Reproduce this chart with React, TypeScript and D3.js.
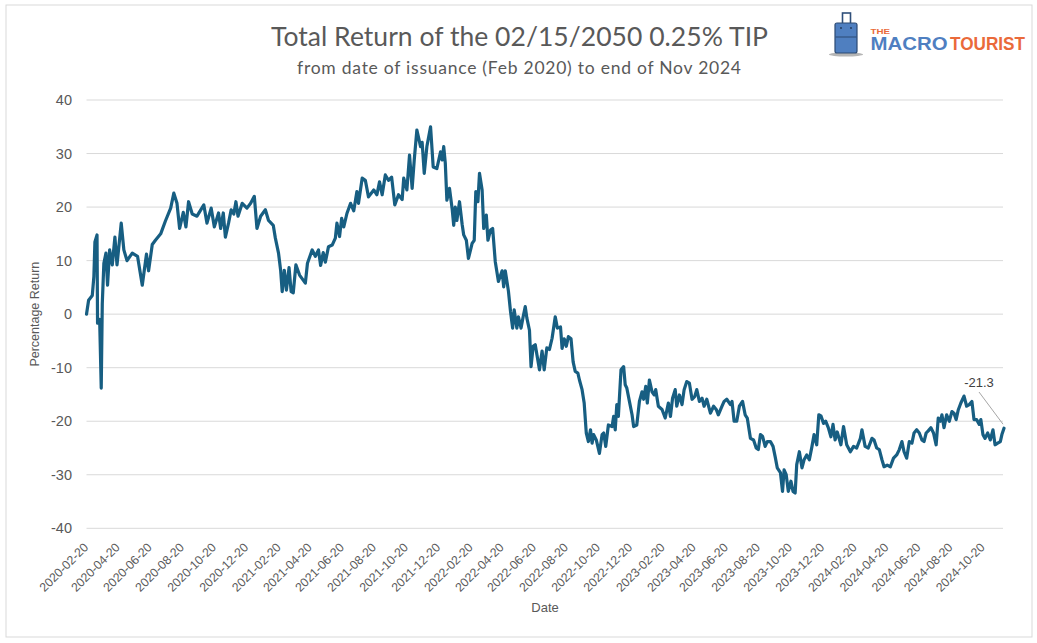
import React from "react";
import * as d3 from "d3";

const ISSUE_DATE = "2020-02-20";
const LAST_LABEL = "-21.3";

// [days since issuance, total return %]
const returnSeries: [number, number][] = [
  [0,0],[4,2.6],[11,3.5],[14,7],[16,13.5],[20,14.8],[21,-1.7],[25,-1],[28,-13.8],[30,2],[33,9.5],[37,11.4],[40,5.4],[44,12],[49,9.2],[54,14.4],[58,9.2],[66,17],[71,12],[77,10],[87,11.4],[97,10.8],[106,5.4],[114,11.2],[118,8.1],[125,13],[131,13.8],[141,15],[150,17.4],[160,19.8],[166,22.6],[172,20.7],[177,16],[184,19],[189,16.3],[194,21],[201,18.7],[210,18.3],[223,20.4],[229,17],[237,19.8],[243,16.3],[251,18.9],[255,16],[260,18.9],[264,14.4],[270,17],[275,19.5],[280,18.7],[284,21],[288,18.3],[296,20.7],[305,19.8],[312,20.7],[319,22],[324,16],[331,18.3],[340,19.5],[346,17.5],[355,16.6],[359,14.2],[365,11.4],[369,8.2],[372,4.2],[376,8.2],[380,4.5],[385,8.7],[389,4.2],[393,4],[398,9.2],[405,7.3],[416,5.8],[420,9.5],[429,12],[435,10.8],[441,12],
  [445,9.1],[450,11.5],[454,9.7],[460,12.6],[467,12.9],[473,14.2],[476,17],[481,14.5],[485,17.9],[489,16.3],[495,18.8],[502,20.7],[508,19.3],[514,22.9],[517,20.7],[524,25.4],[530,25],[536,21.9],[546,23.2],[552,22.3],[557,24.7],[562,22.3],[568,26],[574,25],[580,25.6],[586,20.4],[593,22.3],[600,21.4],[603,25.4],[609,23.2],[614,29.7],[619,23.5],[623,28.8],[628,34.4],[635,31.3],[638,32.1],[642,26.3],[647,31.3],[654,35],[659,27.5],[666,27.2],[673,30.3],[676,28.8],[679,31.3],[682,28.2],[685,21.3],[690,23.5],[695,19.7],[698,16.6],[701,20],[704,17.5],[709,21],[714,16.8],[717,14.8],[722,13.8],[726,10.4],[733,13.2],[737,13.8],[740,22.9],[744,21],[747,26.3],[752,23.2],[755,16],[760,18.5],[763,13.8],[768,15.7],[772,16],[777,9.8],[783,6.1],[790,8.1],[793,5.1],[796,8.1],[802,4.3],[806,0.5],[810,-2.6],[813,0.8],[818,-2.6],[821,-0.5],[826,-2.6],[830,-0.5],[834,1.4],[837,-0.7],[842,-3],[845,-9.8],[849,-6],[853,-5.7],[856,-7.5],[861,-10.4],[866,-6.9],[870,-10.4],[875,-6.3],[880,-6.6],[885,-4.5],[891,-0.5],[895,-2.6],[901,-2.4],
  [904,-6.4],[908,-4.6],[912,-6],[916,-4.2],[921,-4.6],[925,-8.9],[929,-10.7],[934,-11],[937,-12.3],[942,-14.1],[946,-16.6],[950,-22.2],[954,-23.8],[958,-21.6],[961,-24.1],[964,-22.5],[969,-23.5],[975,-26],[980,-22.5],[983,-22.2],[987,-24.7],[992,-20.7],[999,-21],[1002,-19.1],[1005,-21.6],[1008,-16.9],[1011,-19.1],[1016,-10.4],[1021,-9.8],[1024,-13.2],[1027,-13.8],[1032,-16.3],[1037,-18.8],[1040,-21],[1046,-20.7],[1051,-16.3],[1056,-14.5],[1059,-15.9],[1063,-13.5],[1066,-16.6],[1070,-12.3],[1075,-14.5],[1079,-15.1],[1082,-14.1],[1087,-17.2],[1094,-17.8],[1100,-19.4],[1106,-16.6],[1110,-19.1],[1114,-15.7],[1119,-14.1],[1122,-17.2],[1127,-15.1],[1132,-16.9],[1136,-14.1],[1141,-12.6],[1146,-12.9],[1151,-15.9],[1156,-15.4],[1160,-14.1],[1165,-16.3],[1170,-15.7],[1174,-17.2],[1179,-15.9],[1186,-18.5],[1192,-17.2],[1197,-17.8],[1201,-18.8],[1208,-17.2],[1212,-16.3],[1217,-15.9],[1224,-16.9],[1227,-16.3],[1231,-20],[1236,-20],[1241,-17.2],[1247,-16.3],[1252,-18.8],[1256,-19.4],[1262,-23.2],[1268,-23.5],[1273,-25],[1277,-25.3],[1281,-22.5],[1285,-22.8],[1290,-24.7],[1294,-23.8],[1300,-23.8],[1305,-24.7],[1309,-26.6],[1313,-28.7],[1319,-29.6],[1323,-33.1],[1326,-29.1],[1330,-30],[1334,-33.1],[1339,-31.2],[1343,-33.1],[1347,-33.4],[1350,-28.1],[1355,-25.7],[1360,-28.7],[1364,-27.2],[1369,-26.3],[1374,-27.2],[1379,-24.7],[1383,-22.5],[1388,-24.4],[1392,-18.8],
  [1396,-19],[1401,-20.4],[1405,-20],[1410,-21.2],[1415,-22.9],[1419,-20.6],[1423,-23.5],[1427,-22],[1434,-24.4],[1439,-21],[1445,-24.4],[1452,-25.7],[1458,-24.7],[1464,-25],[1471,-23.2],[1474,-21.6],[1480,-24.7],[1486,-25],[1493,-23.2],[1497,-23.5],[1502,-25],[1507,-25.3],[1512,-27.2],[1516,-28.5],[1522,-28.2],[1528,-28.5],[1534,-26.9],[1540,-26.3],[1545,-25.3],[1550,-23.8],[1554,-25.7],[1559,-26.9],[1564,-23.8],[1569,-24.1],[1573,-22.2],[1578,-21.6],[1583,-22.2],[1588,-23.5],[1592,-23.8],[1596,-22.2],[1600,-21.8],[1605,-21.2],[1610,-22.2],[1615,-24.4],[1619,-19.4],[1623,-20],[1626,-18.8],[1630,-21.2],[1635,-18.8],[1640,-20],[1645,-18.2],[1649,-18.5],[1653,-19.7],[1657,-17.9],[1662,-16.6],[1668,-15.3],[1673,-17.2],[1678,-16.9],[1683,-16.3],[1687,-19.7],[1692,-19.7],[1697,-20.6],[1700,-19.7],[1704,-22.5],[1708,-23.2],[1713,-22.2],[1718,-23.5],[1723,-21.6],[1727,-24.4],[1732,-24.1],[1737,-23.8],[1740,-22.5],[1744,-21.3],
];

const yTicks = [40, 30, 20, 10, 0, -10, -20, -30, -40];

const xTickLabels = [
  "2020-02-20","2020-04-20","2020-06-20","2020-08-20","2020-10-20","2020-12-20",
  "2021-02-20","2021-04-20","2021-06-20","2021-08-20","2021-10-20","2021-12-20",
  "2022-02-20","2022-04-20","2022-06-20","2022-08-20","2022-10-20","2022-12-20",
  "2023-02-20","2023-04-20","2023-06-20","2023-08-20","2023-10-20","2023-12-20",
  "2024-02-20","2024-04-20","2024-06-20","2024-08-20","2024-10-20",
];

const parse = d3.utcParse("%Y-%m-%d");
const SANS = "'Liberation Sans', Arial, sans-serif";
const TITLE_FONT = "Lato, 'Open Sans', sans-serif";

export default function App() {
  const W = 1037, H = 643;
  const issue = parse(ISSUE_DATE)!;
  const pts = returnSeries.map(([d, v]) => ({ date: d3.utcDay.offset(issue, d), v }));
  const last = pts[pts.length - 1];

  const x = d3.scaleUtc().domain([issue, last.date]).range([86.5, 1004]);
  const y = d3.scaleLinear().domain([-40, 40]).range([528.3, 100]);

  const line = d3.line<{ date: Date; v: number }>()
    .x((d) => x(d.date))
    .y((d) => y(d.v));

  const txt = "#595959";
  const lx = x(last.date), ly = y(last.v);

  return (
    <svg width={W} height={H} style={{ position: "absolute", left: 0, top: 0, background: "#fff" }}
      fontFamily={SANS}>
      <rect x={6} y={5} width={1026} height={632} fill="#fff" stroke="#d9d9d9" strokeWidth={1} />

      {/* Title */}
      <text x={519.5} y={46} textAnchor="middle" fontFamily={TITLE_FONT} fontSize={26.5} fill={txt}
        textLength={497} lengthAdjust="spacing">
        Total Return of the 02/15/2050 0.25% TIP
      </text>
      <text x={519} y={73.5} textAnchor="middle" fontFamily={TITLE_FONT} fontSize={17.5} fill={txt}
        textLength={444} lengthAdjust="spacing">
        from date of issuance (Feb 2020) to end of Nov 2024
      </text>

      {/* Logo */}
      <g>
        <ellipse cx={846} cy={54.5} rx={17} ry={2} fill="#b5b5b5" />
        <rect x={842.5} y={13} width={8} height={11} fill="none" stroke="#2f4f7a" strokeWidth={1.6} />
        <rect x={835} y={23} width={22} height={30} rx={2} fill="#4f7fc0" stroke="#2c4a73" strokeWidth={1.2} />
        <line x1={835.5} y1={37} x2={856.5} y2={37} stroke="#2c4a73" strokeWidth={1} />
        <circle cx={841} cy={28} r={0.9} fill="#1f3554" />
        <circle cx={851} cy={28} r={0.9} fill="#1f3554" />
        <text x={870.5} y={33.5} fontFamily={SANS} fontWeight="bold" fontSize={8} fill="#ea6a3a"
          textLength={19.5} lengthAdjust="spacingAndGlyphs">THE</text>
        <text x={870.5} y={50} fontFamily={SANS} fontWeight="bold" fontSize={17.5}
          fill="#4f7fc1" textLength={77} lengthAdjust="spacingAndGlyphs">MACRO</text>
        <text x={950} y={50} fontFamily={SANS} fontWeight="bold" fontSize={17.5}
          fill="#ea6a3a" textLength={75} lengthAdjust="spacingAndGlyphs">TOURIST</text>
      </g>

      {/* Gridlines */}
      {yTicks.map((t) => (
        <line key={t} x1={86.5} x2={1003} y1={y(t)} y2={y(t)} stroke="#d9d9d9" strokeWidth={1} />
      ))}
      {/* Y tick labels */}
      {yTicks.map((t) => (
        <text key={"l" + t} x={72} y={y(t)} dy="0.35em" textAnchor="end" fontSize={14.5} fill={txt}>{t}</text>
      ))}

      {/* X tick labels */}
      {xTickLabels.map((s) => {
        const tx = x(parse(s)!);
        return (
          <text key={s} transform={`translate(${tx - 0.5},${545}) rotate(-45)`} textAnchor="end" dy="0.35em"
            fontSize={12.3} fill={txt}>{s}</text>
        );
      })}

      {/* Axis titles */}
      <text transform={`translate(39,${y(0)}) rotate(-90)`} textAnchor="middle" fontSize={12.5} fill={txt}>Percentage Return</text>
      <text x={545} y={612} textAnchor="middle" fontSize={13} fill={txt}>Date</text>

      {/* Series */}
      <path d={line(pts) ?? ""} fill="none" stroke="#175e82" strokeWidth={3.2} strokeLinejoin="round" strokeLinecap="round" />

      {/* Last value annotation */}
      <line x1={979} y1={392} x2={lx - 1} y2={ly - 4} stroke="#a6a6a6" strokeWidth={1} />
      <text x={979} y={387} textAnchor="middle" fontSize={13} fill="#404040">{LAST_LABEL}</text>
    </svg>
  );
}
